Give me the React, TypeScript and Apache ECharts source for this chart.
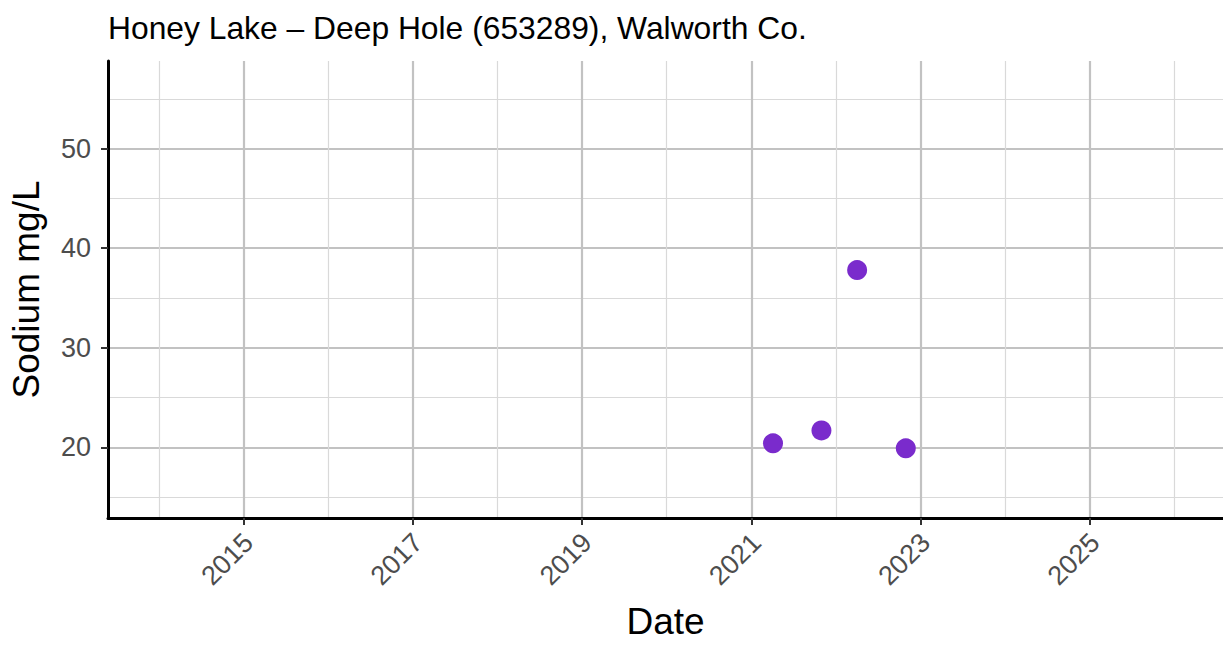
import React, { useEffect, useRef } from "react";
import * as echarts from "echarts";

const titleText = "Honey Lake – Deep Hole (653289), Walworth Co.";
const xAxisTitle = "Date";
const yAxisTitle = "Sodium mg/L";

const sampleDates = ["2021-04-04", "2021-10-30", "2022-04-02", "2022-10-29"];
const sodiumValues = [20.4, 21.7, 37.8, 19.9];

const xMajorYears = [2015, 2017, 2019, 2021, 2023, 2025];
const xMinorYears = [2014, 2016, 2018, 2020, 2022, 2024, 2026];
const yMajorTicks = [20, 30, 40, 50];
const yMinorTicks = [15, 25, 35, 45, 55];

const xMinDate = "2013-05-26";
const xMaxDate = "2026-07-29";
const yMin = 12.9;
const yMax = 58.8;

const yearStart = (y: number) => Date.UTC(y, 0, 1);

export default function App() {
  const ref = useRef<HTMLDivElement>(null);

  useEffect(() => {
    document.body.style.margin = "0";
    if (!ref.current) return;
    const chart = echarts.init(ref.current, undefined, { renderer: "svg" });

    const xMin = Date.parse(xMinDate);
    const xMax = Date.parse(xMaxDate);
    const points = sampleDates.map((d, i) => [Date.parse(d), sodiumValues[i]]);

    const majorGrid = { show: true, lineStyle: { color: "#c2c2c2", width: 2.2 } };
    const minorGrid = { show: true, lineStyle: { color: "#d9d9d9", width: 1.2 } };
    const font = "Liberation Sans";
    const tickLabelFont = {
      fontFamily: font,
      fontSize: 27,
      color: "#4d4d4d",
    };

    chart.setOption({
      animation: false,
      backgroundColor: "#ffffff",
      title: {
        text: titleText,
        left: 108,
        top: 12,
        padding: 0,
        textStyle: {
          fontFamily: font,
          fontSize: 31.8,
          fontWeight: "normal",
          color: "#000000",
        },
      },
      grid: { left: 108, right: 0, top: 61, bottom: 125, containLabel: false },
      xAxis: [
        {
          type: "value",
          min: xMin,
          max: xMax,
          position: "bottom",
          name: xAxisTitle,
          nameLocation: "middle",
          nameGap: 85,
          nameTextStyle: { fontFamily: font, fontSize: 37, color: "#000000" },
          axisLine: { show: true, onZero: false, lineStyle: { color: "#000000", width: 3 } },
          axisTick: {
            show: true,
            length: 7,
            lineStyle: { color: "#333333", width: 2 },
            customValues: xMajorYears.map(yearStart),
          },
          axisLabel: {
            ...tickLabelFont,
            rotate: 45,
            margin: 15,
            align: "right",
            verticalAlign: "top",
            lineHeight: 14,
            customValues: xMajorYears.map(yearStart),
            formatter: (v: number) => String(new Date(v).getUTCFullYear()),
          },
          splitLine: majorGrid,
        },
        {
          type: "value",
          min: xMin,
          max: xMax,
          position: "bottom",
          axisLine: { show: false },
          axisTick: { show: false, customValues: xMinorYears.map(yearStart) },
          axisLabel: { show: false, customValues: xMinorYears.map(yearStart) },
          splitLine: minorGrid,
        },
      ],
      yAxis: [
        {
          type: "value",
          min: yMin,
          max: yMax,
          position: "left",
          name: yAxisTitle,
          nameLocation: "middle",
          nameGap: 63,
          nameTextStyle: { fontFamily: font, fontSize: 37, color: "#000000" },
          axisLine: { show: true, onZero: false, lineStyle: { color: "#000000", width: 3 } },
          axisTick: {
            show: true,
            length: 7,
            lineStyle: { color: "#333333", width: 2 },
            customValues: yMajorTicks,
          },
          axisLabel: { ...tickLabelFont, margin: 17, customValues: yMajorTicks },
          splitLine: majorGrid,
        },
        {
          type: "value",
          min: yMin,
          max: yMax,
          position: "left",
          axisLine: { show: false },
          axisTick: { show: false, customValues: yMinorTicks },
          axisLabel: { show: false, customValues: yMinorTicks },
          splitLine: minorGrid,
        },
      ],
      series: [
        {
          type: "scatter",
          xAxisIndex: 0,
          yAxisIndex: 0,
          data: points,
          symbol: "circle",
          symbolSize: 20,
          itemStyle: { color: "#7a2bcc", opacity: 1 },
          z: 5,
        },
      ],
    });

    return () => chart.dispose();
  }, []);

  return <div ref={ref} style={{ width: 1223, height: 645 }} />;
}
